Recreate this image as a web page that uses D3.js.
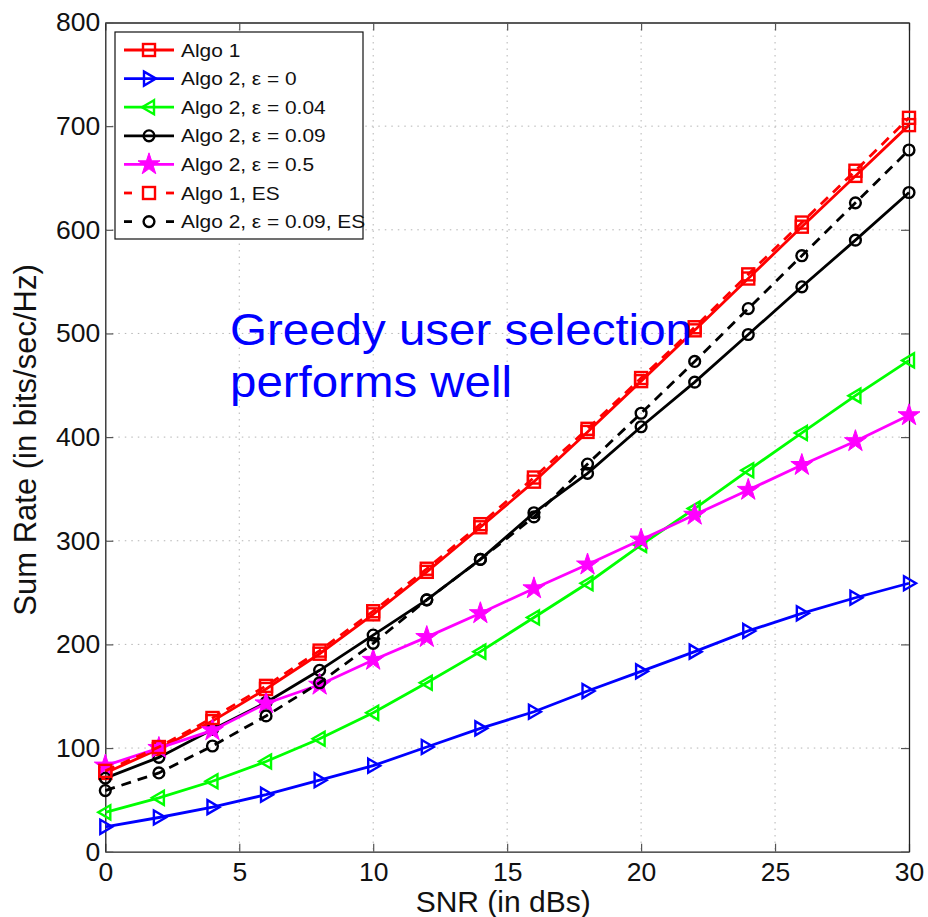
<!DOCTYPE html>
<html>
<head>
<meta charset="utf-8">
<script src="https://cdn.jsdelivr.net/npm/d3@7"></script>
<style>
  html, body { margin: 0; padding: 0; background: #fff; }
  svg { display: block; font-family: "Liberation Sans", Arial, Helvetica, sans-serif; }
</style>
</head>
<body>
<svg id="chart" width="928" height="917"></svg>
<script>
// SNR sample points (dB)
const snr = [0, 2, 4, 6, 8, 10, 12, 14, 16, 18, 20, 22, 24, 26, 28, 30];

// Sum rate (bits/sec/Hz) for each scheme
const algo1      = [76, 99, 126, 157, 191, 229, 270, 313, 357, 405, 454, 503, 553, 603, 652, 701];
const algo2Eps0  = [24, 33, 43, 55, 69, 83, 101, 119, 135, 155, 174, 193, 213, 230, 245, 259];
const algo2Eps04 = [38, 52, 68, 87, 109, 134, 163, 193, 226, 259, 296, 331, 368, 404, 440, 474];
const algo2Eps09 = [71, 91, 118, 144, 175, 209, 243, 282, 327, 365, 410, 453, 499, 545, 590, 636];
const algo2Eps5  = [83, 100, 117, 143, 161, 185, 207, 230, 254, 277, 301, 325, 349, 373, 396, 421];
const algo1ES    = [78, 101, 129, 160, 194, 232, 273, 316, 361, 408, 457, 506, 557, 607, 657, 708];
const algo2Eps09ES = [59, 76, 102, 131, 163, 201, 243, 282, 323, 374, 423, 473, 524, 575, 626, 677];

const seriesNames = [
  "Algo 1",
  "Algo 2, \u03B5 = 0",
  "Algo 2, \u03B5 = 0.04",
  "Algo 2, \u03B5 = 0.09",
  "Algo 2, \u03B5 = 0.5",
  "Algo 1, ES",
  "Algo 2, \u03B5 = 0.09, ES"
];
const seriesValues = [algo1, algo2Eps0, algo2Eps04, algo2Eps09, algo2Eps5, algo1ES, algo2Eps09ES];
const seriesColors = ["#ff0000", "#0000ff", "#00ff00", "#000000", "#ff00ff", "#ff0000", "#000000"];
const seriesMarkers = ["square", "triRight", "triLeft", "circle", "star", "square", "circle"];
const seriesDashed = [false, false, false, false, false, true, true];

const xTicks = [0, 5, 10, 15, 20, 25, 30];
const yTicks = [0, 100, 200, 300, 400, 500, 600, 700, 800];

const xLabel = "SNR (in dBs)";
const yLabel = "Sum Rate (in bits/sec/Hz)";
const noteLines = ["Greedy user selection", "performs well"];

// Plot frame
const frame = { left: 105.3, right: 909, top: 22.5, bottom: 851.7 };
const svg = d3.select("#chart");
svg.append("rect").attr("width", 928).attr("height", 917).attr("fill", "#fff");

const x = d3.scaleLinear().domain([0, 30]).range([frame.left, frame.right]);
const y = d3.scaleLinear().domain([0, 800]).range([frame.bottom, frame.top]);

// Dotted grid
const grid = svg.append("g").attr("stroke", "#b4b4b4").attr("stroke-width", 1)
  .attr("stroke-dasharray", "1.5,5");
grid.selectAll("line.gx").data(xTicks.slice(1, -1)).join("line")
  .attr("x1", d => x(d)).attr("x2", d => x(d)).attr("y1", frame.top).attr("y2", frame.bottom);
grid.selectAll("line.gy").data(yTicks.slice(1, -1)).join("line")
  .attr("y1", d => y(d)).attr("y2", d => y(d)).attr("x1", frame.left).attr("x2", frame.right);

// Axes with inward ticks on all four sides
const tickFont = 26.5;
function styleAxis(g) {
  g.selectAll(".domain").attr("stroke", "#222").attr("stroke-width", 1.3);
  g.selectAll(".tick line").attr("stroke", "#555").attr("stroke-width", 1.2);
  g.selectAll(".tick text").attr("fill", "#111").attr("font-size", tickFont)
    .attr("font-family", "Liberation Sans, Arial, sans-serif");
}
svg.append("g").attr("transform", `translate(0,${frame.bottom})`)
  .call(d3.axisBottom(x).tickValues(xTicks).tickSizeInner(-8).tickSizeOuter(0).tickPadding(10))
  .call(styleAxis);
svg.append("g").attr("transform", `translate(0,${frame.top})`)
  .call(d3.axisTop(x).tickValues(xTicks).tickSizeInner(-8).tickSizeOuter(0).tickFormat(""))
  .call(styleAxis);
svg.append("g").attr("transform", `translate(${frame.left},0)`)
  .call(d3.axisLeft(y).tickValues(yTicks).tickSizeInner(-8).tickSizeOuter(0).tickPadding(5))
  .call(styleAxis);
svg.append("g").attr("transform", `translate(${frame.right},0)`)
  .call(d3.axisRight(y).tickValues(yTicks).tickSizeInner(-8).tickSizeOuter(0).tickFormat(""))
  .call(styleAxis);

// Marker drawing
function drawMarker(sel, type, color) {
  const sw = 2.4;
  if (type === "square") {
    sel.append("rect").attr("x", -6).attr("y", -6).attr("width", 12).attr("height", 12)
      .attr("fill", "none").attr("stroke", color).attr("stroke-width", sw);
  } else if (type === "circle") {
    sel.append("circle").attr("r", 5.4).attr("fill", "none").attr("stroke", color).attr("stroke-width", sw);
  } else if (type === "triRight") {
    sel.append("path").attr("d", "M-5,-7L7,0L-5,7Z")
      .attr("fill", "none").attr("stroke", color).attr("stroke-width", sw).attr("stroke-linejoin", "miter");
  } else if (type === "triLeft") {
    sel.append("path").attr("d", "M5,-7L-7,0L5,7Z")
      .attr("fill", "none").attr("stroke", color).attr("stroke-width", sw).attr("stroke-linejoin", "miter");
  } else if (type === "star") {
    sel.append("path").attr("d", d3.symbol(d3.symbolStar, 150)())
      .attr("fill", color).attr("stroke", color).attr("stroke-width", 1);
  }
}

// Series lines and markers
const line = d3.line().x((d, i) => x(snr[i])).y(d => y(d));
const plot = svg.append("g");
seriesValues.forEach((vals, k) => {
  const g = plot.append("g");
  g.append("path").attr("d", line(vals)).attr("fill", "none")
    .attr("stroke", seriesColors[k]).attr("stroke-width", 2.8)
    .attr("stroke-dasharray", seriesDashed[k] ? "10,7" : null);
  g.selectAll("g.m").data(vals).join("g")
    .attr("transform", (d, i) => `translate(${x(snr[i])},${y(d)})`)
    .each(function() { drawMarker(d3.select(this), seriesMarkers[k], seriesColors[k]); });
});

// Legend
const lgX = 115, lgY = 32, lgW = 248, lgH = 207;
const legend = svg.append("g");
legend.append("rect").attr("x", lgX).attr("y", lgY).attr("width", lgW).attr("height", lgH)
  .attr("fill", "#fff").attr("stroke", "#111").attr("stroke-width", 1.2);
seriesNames.forEach((name, k) => {
  const cy = 50 + k * 28.6;
  const row = legend.append("g");
  if (seriesDashed[k]) {
    row.append("line").attr("x1", 124).attr("x2", 132).attr("y1", cy).attr("y2", cy)
      .attr("stroke", seriesColors[k]).attr("stroke-width", 2.8);
    row.append("line").attr("x1", 166).attr("x2", 174).attr("y1", cy).attr("y2", cy)
      .attr("stroke", seriesColors[k]).attr("stroke-width", 2.8);
  } else {
    row.append("line").attr("x1", 124).attr("x2", 174).attr("y1", cy).attr("y2", cy)
      .attr("stroke", seriesColors[k]).attr("stroke-width", 2.8);
  }
  const m = row.append("g").attr("transform", `translate(149,${cy})`);
  drawMarker(m, seriesMarkers[k], seriesColors[k]);
  // slightly widened legend lettering
  row.append("text").attr("transform", `translate(181,${cy + 6.5}) scale(1.1,1)`)
    .attr("font-size", 19).attr("fill", "#111").text(name);
});

// Axis titles
svg.append("text").attr("x", (frame.left + frame.right) / 2 - 4).attr("y", 912)
  .attr("text-anchor", "middle").attr("font-size", 30).attr("fill", "#111").text(xLabel);
svg.append("text").attr("transform", `translate(36,${440}) rotate(-90)`)
  .attr("text-anchor", "middle").attr("font-size", 31).attr("fill", "#111").text(yLabel);

// Annotation
const noteLengths = [462, 282];
noteLines.forEach((t, i) => {
  svg.append("text").attr("x", 230).attr("y", 345 + i * 52)
    .attr("font-size", 45).attr("fill", "#0000ff")
    .attr("textLength", noteLengths[i]).attr("lengthAdjust", "spacingAndGlyphs")
    .text(t);
});
</script>
</body>
</html>
